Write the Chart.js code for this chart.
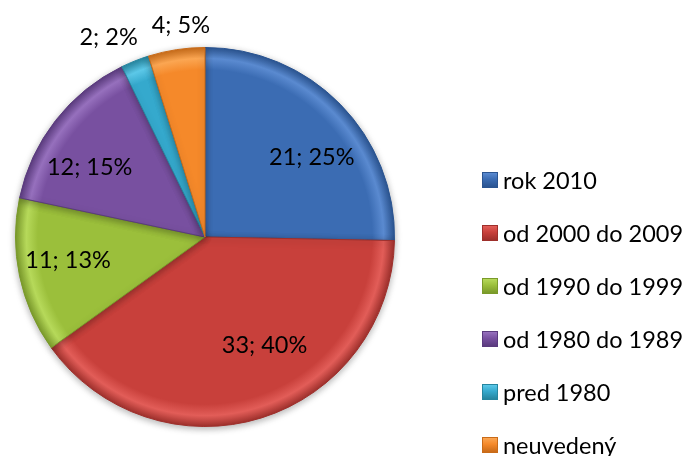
<!DOCTYPE html>
<html>
<head>
<meta charset="utf-8">
<script src="https://cdn.jsdelivr.net/npm/chart.js@4.4.0/dist/chart.umd.min.js"></script>
<style>
  body { margin: 0; background: #fff; }
  #wrap { position: relative; width: 689px; height: 456px; overflow: hidden; }
  #legenda { position: absolute; left: 482px; top: 0; font-family: Lato, sans-serif; font-size: 23.5px; color: #000; }
  .polozka { position: absolute; left: 0; height: 24px; line-height: 24px; white-space: nowrap; display: flex; align-items: center; }
  .stvorec { width: 16px; height: 16px; margin-right: 5px; box-sizing: border-box; }
</style>
</head>
<body>
<div id="wrap">
  <canvas id="graf" width="689" height="456"></canvas>
  <div id="legenda"></div>
</div>
<script>
var kategorie = ['rok 2010', 'od 2000 do 2009', 'od 1990 do 1999', 'od 1980 do 1989', 'pred 1980', 'neuvedený'];
var hodnoty = [21, 33, 11, 12, 2, 4];

var farby = ['#3b6cb3', '#c8403b', '#9bbf3b', '#7850a0', '#35a9cd', '#f5892a'];
var farbySvetle = ['#5a8ad0', '#e25d58', '#b6d95a', '#9670bd', '#5cc8e8', '#fba652'];
var farbyTmave = ['#2a5491', '#9e2f2b', '#7a9a2a', '#5a3a7e', '#25859f', '#c96b18'];

var sucet = hodnoty.reduce(function (a, b) { return a + b; }, 0);

// percenta zaokruhlene tak, aby dali spolu 100 (ako Excel)
function percenta(vals) {
  var presne = vals.map(function (v) { return v / sucet * 100; });
  var cele = presne.map(Math.floor);
  var zvysok = 100 - cele.reduce(function (a, b) { return a + b; }, 0);
  var poradie = presne.map(function (p, i) { return i; })
    .sort(function (a, b) { return (presne[b] - cele[b]) - (presne[a] - cele[a]); });
  for (var k = 0; k < zvysok; k++) cele[poradie[k]]++;
  return cele;
}
var pct = percenta(hodnoty);

function vypln(context) {
  var i = context.dataIndex;
  var chart = context.chart;
  var area = chart.chartArea;
  if (!area) return farby[i];
  var cx = (area.left + area.right) / 2;
  var cy = (area.top + area.bottom) / 2;
  var r = Math.min(area.right - area.left, area.bottom - area.top) / 2;
  var g = chart.ctx.createRadialGradient(cx, cy, 0, cx, cy, r);
  g.addColorStop(0, farby[i]);
  g.addColorStop(0.88, farby[i]);
  g.addColorStop(0.94, farbySvetle[i]);
  g.addColorStop(1, farbyTmave[i]);
  return g;
}

var tien = {
  id: 'tien',
  beforeDatasetsDraw: function (chart) {
    var ctx = chart.ctx;
    ctx.save();
    ctx.shadowColor = 'rgba(0,0,0,0.3)';
    ctx.shadowBlur = 7;
    ctx.shadowOffsetY = 2;
  },
  afterDatasetsDraw: function (chart) {
    chart.ctx.restore();
  }
};

var popisky = {
  id: 'popisky',
  afterDatasetsDraw: function (chart) {
    var ctx = chart.ctx;
    var meta = chart.getDatasetMeta(0);
    var h = 24, medzera = 14;
    ctx.save();
    ctx.font = '23.5px Lato';
    ctx.fillStyle = '#000';
    ctx.textAlign = 'center';
    ctx.textBaseline = 'middle';
    var boxy = [];
    meta.data.forEach(function (arc, i) {
      var p = arc.getProps(['x', 'y', 'startAngle', 'endAngle', 'outerRadius'], true);
      var mid = (p.startAngle + p.endAngle) / 2;
      var text = hodnoty[i] + '; ' + pct[i] + '%';
      var w = ctx.measureText(text).width;
      var cos = Math.cos(mid), sin = Math.sin(mid);
      var b = { text: text, w: w, von: hodnoty[i] / sucet < 0.06 };
      if (b.von) {
        var d = p.outerRadius + 13;
        b.x = p.x + cos * d + cos * w / 2;
        b.y = p.y + sin * d + sin * h / 2;
      } else {
        var d2 = p.outerRadius * 0.6;
        b.x = p.x + cos * d2 + Math.sign(cos) * w * 0.3;
        b.y = p.y + sin * d2;
      }
      boxy.push(b);
    });
    // vonkajsie popisky od seba odsunut, ak sa prekryvaju
    for (var i = 1; i < boxy.length; i++) {
      var a = boxy[i - 1], c = boxy[i];
      if (!a.von || !c.von) continue;
      if (Math.abs(a.y - c.y) >= h) continue;
      var lavy = a.x < c.x ? a : c, pravy = a.x < c.x ? c : a;
      var gap = (pravy.x - pravy.w / 2) - (lavy.x + lavy.w / 2);
      if (gap < medzera) {
        var posun = (medzera - gap) / 2;
        lavy.x -= posun;
        pravy.x += posun;
      }
    }
    boxy.forEach(function (b) { ctx.fillText(b.text, b.x, b.y); });
    ctx.restore();
  }
};

var config = {
  type: 'pie',
  data: {
    labels: kategorie,
    datasets: [{
      data: hodnoty,
      backgroundColor: vypln,
      borderColor: farbyTmave,
      borderWidth: 1
    }]
  },
  options: {
    responsive: false,
    animation: false,
    layout: {
      padding: { left: 15, top: 47, bottom: 29, right: 294 }
    },
    plugins: {
      legend: { display: false },
      tooltip: { enabled: false }
    }
  },
  plugins: [tien, popisky]
};

var myChart = new Chart(document.getElementById('graf'), config);

// legenda
var legenda = document.getElementById('legenda');
kategorie.forEach(function (nazov, i) {
  var div = document.createElement('div');
  div.className = 'polozka';
  div.style.top = (180 + i * 53 - 12) + 'px';
  var box = document.createElement('span');
  box.className = 'stvorec';
  box.style.background = 'linear-gradient(to bottom, ' + farbySvetle[i] + ' 0%, ' + farby[i] + ' 45%, ' + farbyTmave[i] + ' 100%)';
  box.style.border = '1px solid ' + farbyTmave[i];
  var txt = document.createElement('span');
  txt.textContent = nazov;
  div.appendChild(box);
  div.appendChild(txt);
  legenda.appendChild(div);
});
</script>
</body>
</html>
